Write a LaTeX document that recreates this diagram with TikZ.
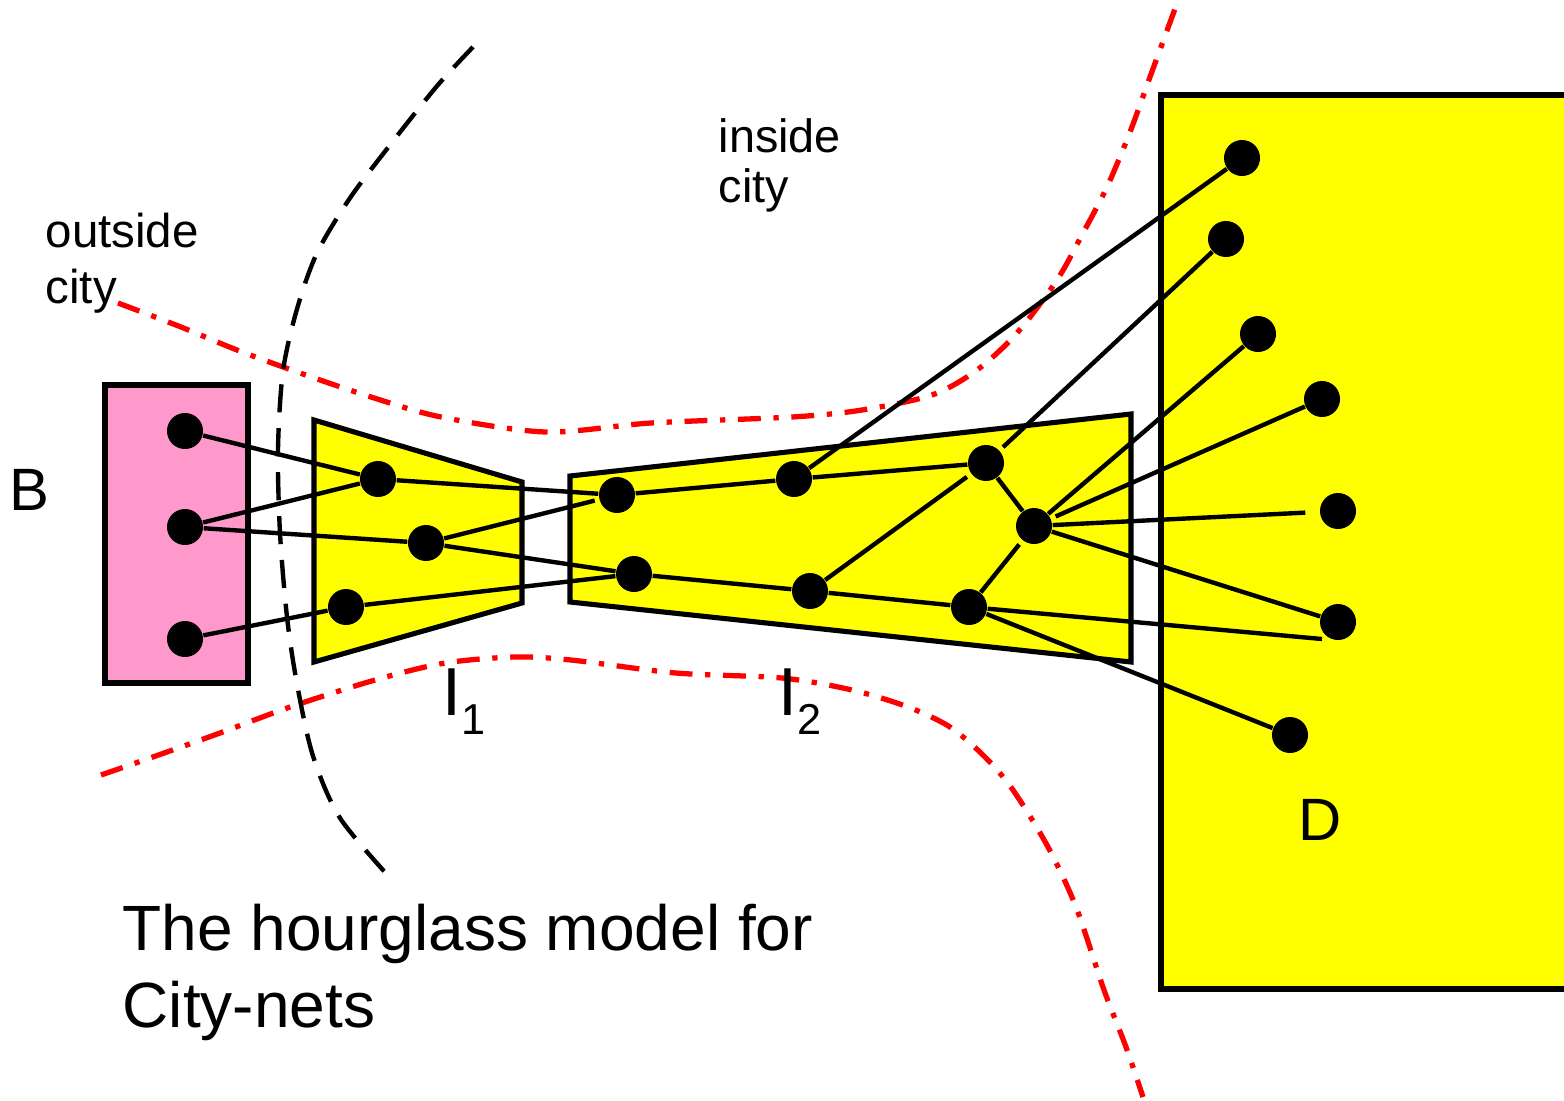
\documentclass[tikz,border=0pt]{standalone}
\usepackage{fontspec}
\setmainfont{Liberation Sans}
\usetikzlibrary{positioning}
\definecolor{cityPink}{HTML}{FF99CC}
\definecolor{cityYellow}{HTML}{FFFF00}
\definecolor{cityRed}{HTML}{FF0000}

\begin{document}
\begin{tikzpicture}[x=0.01cm, y=-0.01cm,
  dot/.style={circle,fill=black,minimum size=3.6mm,inner sep=0pt},
  box/.style={draw=black,line width=1.45pt},
  link/.style={black,line width=1.25pt},
  citybound/.style={cityRed,line width=1.5pt,dash pattern=on 6.5pt off 3.6pt on 1.5pt off 3.6pt},
  glassline/.style={black,line width=1.25pt,dash pattern=on 8pt off 4.5pt},
  lbl/.style={inner sep=0pt,anchor=base west}]
\useasboundingbox (0,0) rectangle (1564,1100);
% --- city boundaries ---
  \draw[citybound] plot[smooth] coordinates {(118,303) (181,327) (237,350) (300,373)
    (371,397) (441,417) (546,432) (651,423) (792,417) (862,410) (932,395) (977,370)
    (1017,333) (1057,280) (1083,233) (1107,187) (1130,132) (1150,77) (1176,6)};
  \draw[citybound] plot[smooth] coordinates {(101,775) (150,758) (220,733) (290,707)
    (375,680) (445,663) (515,657) (571,660) (676,673) (782,678) (852,690) (908,707)
    (950,727) (985,757) (1013,790) (1048,847) (1076,907) (1104,990) (1126,1047) (1143,1097)};
  \draw[glassline] plot[smooth] coordinates {(473,47) (437,86) (390,145) (350,198)
    (317,253) (297,309) (283,371) (278,449) (280,533) (287,617) (297,684) (313,756)
    (340,818) (392,880)};
% --- boxes ---
  \draw[box,fill=cityPink] (105,385) rectangle (248,683);
  \draw[box,fill=cityYellow] (314,420) -- (522,482) -- (522,603) -- (314,662) -- cycle;
  \draw[box,fill=cityYellow] (570,476) -- (1131,414) -- (1131,662) -- (570,602) -- cycle;
  \draw[box,fill=cityYellow] (1161,95) rectangle (1590,989);
% --- nodes ---
  \node[dot] (b1) at (185,431) {};
  \node[dot] (b2) at (185,527) {};
  \node[dot] (b3) at (185,639) {};
  \node[dot] (p1) at (378,479) {};
  \node[dot] (p2) at (426,543) {};
  \node[dot] (p3) at (346,607) {};
  \node[dot] (q1) at (617,495) {};
  \node[dot] (q2) at (794,479) {};
  \node[dot] (q3) at (986,463) {};
  \node[dot] (q4) at (1034,526) {};
  \node[dot] (q5) at (634,574) {};
  \node[dot] (q6) at (810,591) {};
  \node[dot] (q7) at (969,607) {};
  \node[dot] (d1) at (1242,158) {};
  \node[dot] (d2) at (1226,239) {};
  \node[dot] (d3) at (1258,334) {};
  \node[dot] (d4) at (1322,399) {};
  \node[dot] (d5) at (1338,511) {};
  \node[dot] (d6) at (1338,622) {};
  \node[dot] (d7) at (1290,735) {};
  \coordinate (e6) at (1322,639);
% --- links ---
  \draw[link] (b1) -- (p1);
  \draw[link] (b2) -- (p1);
  \draw[link] (b2) -- (p2);
  \draw[link] (b3) -- (p3);
  \draw[link] (p1) -- (q1);
  \draw[link,shorten >=1.2pt] (p2) -- (q1);
  \draw[link] (p2) -- (q5);
  \draw[link] (p3) -- (q5);
  \draw[link] (q1) -- (q2);
  \draw[link] (q2) -- (q3);
  \draw[link] (q2) -- (d1);
  \draw[link,shorten <=1.3pt] (q3) -- (d2);
  \draw[link] (q3) -- (q4);
  \draw[link] (q5) -- (q6);
  \draw[link] (q6) -- (q7);
  \draw[link,shorten >=1.4pt] (q6) -- (q3);
  \draw[link,shorten >=1.4pt] (q7) -- (q4);
  \draw[link] (q4) -- (d3);
  \draw[link,shorten <=1.4pt] (q4) -- (d4);
  \draw[link,shorten >=4pt] (q4) -- (d5);
  \draw[link] (q4) -- (d6);
  \draw[link] (q7) -- (e6);
  \draw[link] (q7) -- (d7);
% --- labels ---
  \node[lbl,font=\fontsize{13.5}{15.9}\selectfont,align=left] (outer) at (45,303) {outside\\city};
  \node[lbl,font=\fontsize{13.3}{14.2}\selectfont,align=left] (inner) at (718,202) {inside\\city};
  \node[lbl,font=\fontsize{17}{20}\selectfont] (bl) at (9,510) {B};
  \node[lbl,font=\fontsize{17}{20}\selectfont] (dl) at (1298,840) {D};
  \node[lbl,font=\fontsize{19.3}{22}\selectfont] (i1) at (442,715) {I\raisebox{-5.6pt}{\fontsize{12.3}{14}\selectfont 1}};
  \node[lbl,font=\fontsize{19.3}{22}\selectfont] (i2) at (778,715) {I\raisebox{-5.6pt}{\fontsize{12.3}{14}\selectfont 2}};
  \node[lbl,font=\fontsize{18.2}{21.9}\selectfont,align=left] (title) at (122,1027) {The hourglass model for\\City-nets};
\end{tikzpicture}
\end{document}
